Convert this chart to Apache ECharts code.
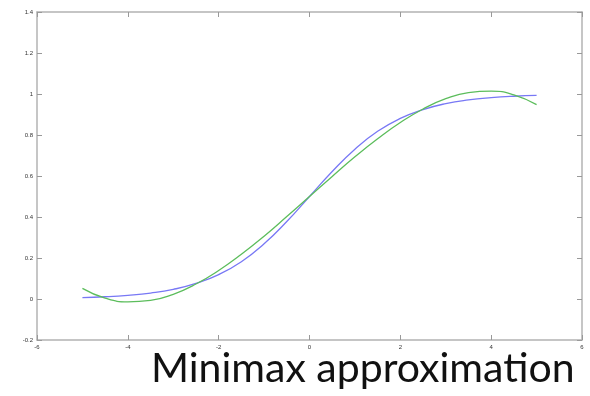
<!DOCTYPE html>
<html>
<head>
<meta charset="utf-8">
<script src="https://cdn.jsdelivr.net/npm/echarts@6/dist/echarts.min.js"></script>
<style>
html,body{margin:0;padding:0;background:#fff}
#chart{width:590px;height:396px}
</style>
</head>
<body>
<div id="chart"></div>
<script>
// x samples
var xs = [-5,-4.5,-4,-3.5,-3,-2.5,-2,-1.5,-1,-0.5,0,0.5,1,1.5,2,2.5,3,3.5,4,4.5,5];
// blue: logistic curve
var sigmoid = [0.007,0.011,0.018,0.029,0.047,0.076,0.119,0.182,0.269,0.378,0.5,0.622,0.731,0.818,0.881,0.924,0.953,0.971,0.982,0.989,0.993];
// green: minimax polynomial
var minimax = [0.052,0.004,-0.014,-0.007,0.023,0.073,0.139,0.218,0.306,0.402,0.5,0.598,0.694,0.782,0.861,0.927,0.977,1.007,1.014,0.996,0.948];

function pairs(ys){
	var out = []
	for(var i=0;i<xs.length;i++){
		out.push([xs[i],ys[i]])
	}
	return out
}

var mychart = echarts.init(document.getElementById('chart'))
var boxLine = {show:true,onZero:false,lineStyle:{color:"#b3b3b3",width:1.5}}
var tick = {show:true,inside:true,length:5,lineStyle:{color:"#999",width:1}}
var option = {
	animation:false,
	title:{
		text:"Minimax approximation",
		left:146,
		top:343,
		textStyle:{
			color:"#111",
			fontSize:41,
			fontWeight:"normal",
			fontFamily:"Lato"
		}
	},
	grid:{
		left:37,
		right:8,
		top:12,
		bottom:56
	},
	xAxis:[{
		type:'value',
		min:-6,
		max:6,
		interval:2,
		axisLine:boxLine,
		axisTick:tick,
		splitLine:{show:false},
		axisLabel:{color:"#333",fontSize:6,margin:4}
	},{
		type:'value',
		position:'top',
		min:-6,
		max:6,
		interval:2,
		axisLine:boxLine,
		axisTick:tick,
		splitLine:{show:false},
		axisLabel:{show:false}
	}],
	yAxis:[{
		type:'value',
		min:-0.2,
		max:1.4,
		interval:0.2,
		axisLine:boxLine,
		axisTick:tick,
		splitLine:{show:false},
		axisLabel:{color:"#333",fontSize:6,margin:4}
	},{
		type:'value',
		position:'right',
		min:-0.2,
		max:1.4,
		interval:0.2,
		axisLine:boxLine,
		axisTick:tick,
		splitLine:{show:false},
		axisLabel:{show:false}
	}],
	series:[{
		type:'line',
		data:pairs(sigmoid),
		smooth:true,
		symbol:'none',
		lineStyle:{color:"#7878f5",width:1.3}
	},{
		type:'line',
		data:pairs(minimax),
		smooth:true,
		symbol:'none',
		lineStyle:{color:"#5cbd5c",width:1.3}
	}]
}
mychart.setOption(option)
</script>
</body>
</html>
